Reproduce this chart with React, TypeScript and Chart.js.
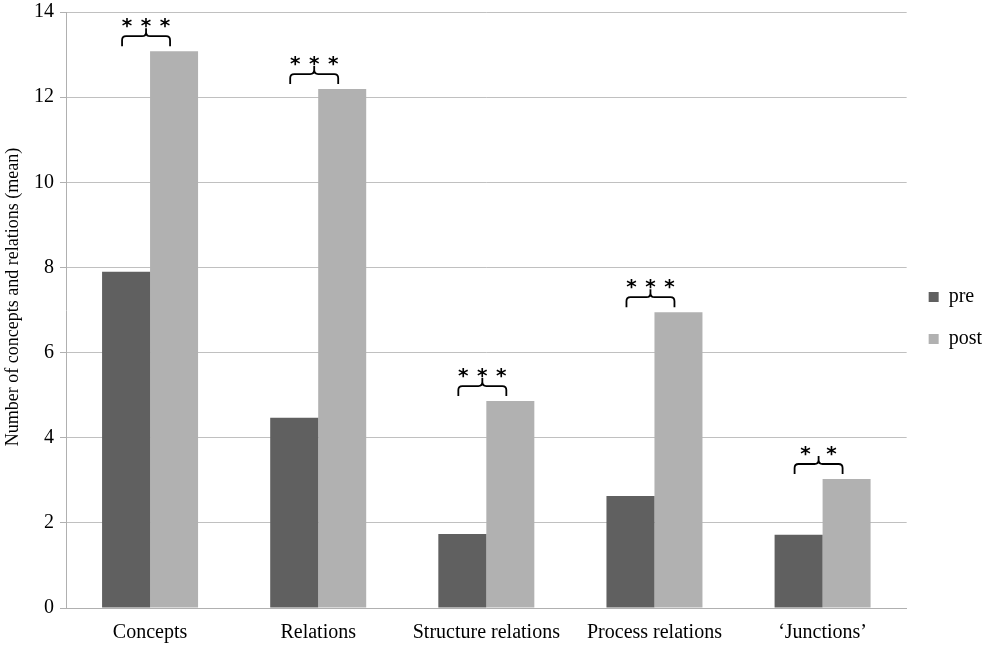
import React, { useEffect, useRef } from "react";
import { Chart, registerables } from "chart.js";

Chart.register(...registerables);

const categories = ["Concepts", "Relations", "Structure relations", "Process relations", "\u2018Junctions\u2019"];
const preValues = [7.9, 4.47, 1.74, 2.63, 1.72];
const postValues = [13.08, 12.19, 4.86, 6.95, 3.03];
const significance = ["***", "***", "***", "***", "**"];
const yTicks = [0, 2, 4, 6, 8, 10, 12, 14];
const yTitle = "Number of concepts and relations (mean)";

const bracketPlugin = {
  id: "brackets",
  afterDatasetsDraw(chart: any) {
    const ctx = chart.ctx;
    const m0 = chart.getDatasetMeta(0).data;
    const m1 = chart.getDatasetMeta(1).data;
    ctx.save();
    ctx.strokeStyle = "#000";
    ctx.lineWidth = 1.8;
    ctx.fillStyle = "#000";
    ctx.font = "bold 20px 'DejaVu Sans'";
    ctx.textAlign = "center";
    ctx.textBaseline = "alphabetic";
    for (let i = 0; i < categories.length; i++) {
      const cx = (m0[i].x + m1[i].x) / 2 - 4;
      const top = Math.min(m0[i].y, m1[i].y);
      const bottom = top - 5;
      const line = bottom - 10;
      const tick = line - 8;
      const l = cx - 24;
      const r = cx + 24;
      const rr = 4;
      ctx.beginPath();
      ctx.moveTo(l, bottom);
      ctx.lineTo(l, line + rr);
      ctx.quadraticCurveTo(l, line, l + rr, line);
      ctx.lineTo(cx - rr, line);
      ctx.quadraticCurveTo(cx, line, cx, line - rr);
      ctx.lineTo(cx, tick);
      ctx.moveTo(cx, line - rr);
      ctx.quadraticCurveTo(cx, line, cx + rr, line);
      ctx.lineTo(r - rr, line);
      ctx.quadraticCurveTo(r, line, r, line + rr);
      ctx.lineTo(r, bottom);
      ctx.stroke();
      const n = significance[i].length;
      const step = n === 3 ? 19 : 26;
      const starCenter = line - 16;
      for (let k = 0; k < n; k++) {
        const sx = cx + (k - (n - 1) / 2) * step;
        ctx.fillText("*", sx, starCenter + 12);
      }
    }
    ctx.restore();
  },
};

const titlePlugin = {
  id: "ytitle",
  afterDraw(chart: any) {
    const ctx = chart.ctx;
    ctx.save();
    ctx.translate(13, 297);
    ctx.rotate(-Math.PI / 2);
    ctx.fillStyle = "#000";
    ctx.font = "18px 'Liberation Serif'";
    ctx.textAlign = "center";
    ctx.textBaseline = "middle";
    ctx.fillText(yTitle, 0, 0);
    ctx.restore();
  },
};

export default function App() {
  const ref = useRef<HTMLCanvasElement>(null);
  useEffect(() => {
    const chart = new Chart(ref.current as HTMLCanvasElement, {
      type: "bar",
      data: {
        labels: categories,
        datasets: [
          { label: "pre", data: preValues, backgroundColor: "#606060", borderWidth: 0 },
          { label: "post", data: postValues, backgroundColor: "#b1b1b1", borderWidth: 0 },
        ],
      },
      options: {
        animation: false,
        responsive: false,
        maintainAspectRatio: false,
        layout: { padding: { top: 12, right: 0, left: 0, bottom: 0 } },
        datasets: { bar: { barPercentage: 1, categoryPercentage: 0.571 } },
        plugins: {
          legend: {
            position: "right",
            fullSize: false,
            title: { display: true, text: " ", padding: 2, font: { size: 10, lineHeight: 1.2 } },
            labels: {
              boxWidth: 10,
              boxHeight: 10,
              padding: 22,
              color: "#000",
              font: { family: "'Liberation Serif'", size: 20 },
            },
          },
          tooltip: { enabled: false },
        },
        scales: {
          x: {
            grid: { display: false, drawTicks: false },
            border: { color: "#b0b0b0", width: 1 },
            ticks: { color: "#000", padding: 13, autoSkip: false, font: { family: "'Liberation Serif'", size: 20 }, maxRotation: 0 },
            afterFit: (s: any) => { s.height = 40; },
          },
          y: {
            min: 0,
            max: 14,
            afterBuildTicks: (s: any) => { s.ticks = yTicks.map((v) => ({ value: v })); },
            grid: { color: "#c0c0c0", tickLength: 6, tickColor: "#b0b0b0" },
            border: { color: "#b0b0b0", width: 1 },
            ticks: { color: "#000", padding: 6, font: { family: "'Liberation Serif'", size: 20, lineHeight: 0.4 } },
            afterFit: (s: any) => { s.width = 66; },
          },
        },
      },
      plugins: [bracketPlugin, titlePlugin],
    } as any);
    return () => chart.destroy();
  }, []);
  return (
    <div style={{ position: "fixed", left: 0, top: 0, width: 992, height: 648, background: "#fff" }}>
      <canvas ref={ref} width={992} height={648} />
    </div>
  );
}
